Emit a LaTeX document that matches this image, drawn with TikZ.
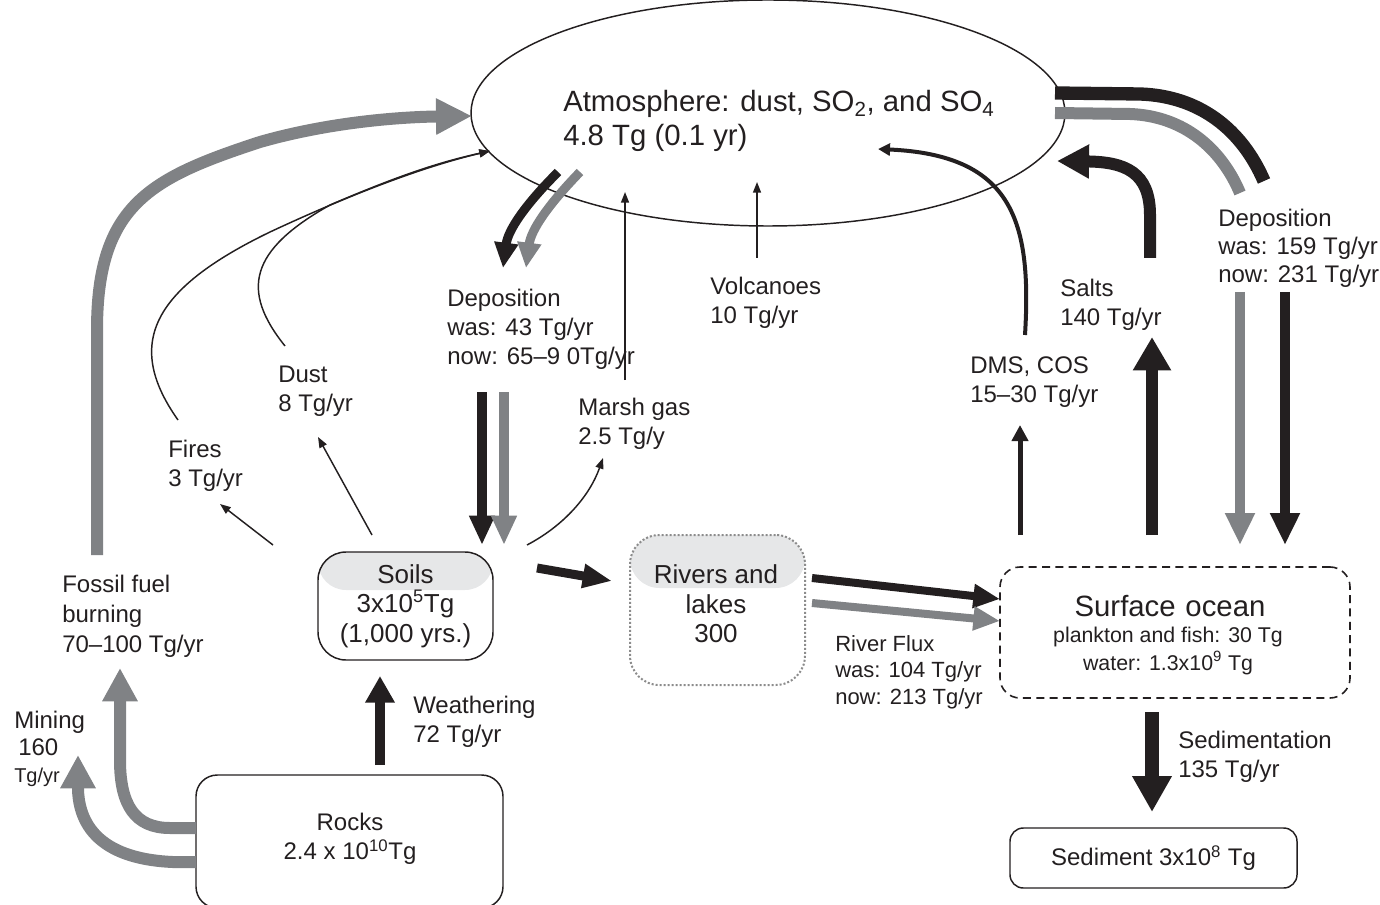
\documentclass[tikz,border=0pt]{standalone}
\usepackage{fontspec}
\setmainfont{Liberation Sans}
\usetikzlibrary{arrows.meta,shapes.geometric}
\definecolor{dk}{HTML}{231F20}
\definecolor{gr}{HTML}{808285}
\definecolor{bandc}{HTML}{E6E7E8}
\definecolor{dotc}{HTML}{8C8C8C}
\begin{document}
\begin{tikzpicture}[x=0.75pt,y=-0.75pt,
  lbl/.style={anchor=west,inner sep=0pt,align=left,text=dk,font=\fontsize{18}{21.75}\selectfont},
  ctr/.style={inner sep=0pt,align=center,text=dk,font=\fontsize{18}{21.75}\selectfont},
  thinarr/.style={draw=dk,line width=1.1pt,-{Triangle[length=8pt,width=6pt]}},
  flow/.style args={#1/#2/#3/#4}{draw=#1,line width=#2,-{Triangle[length=#3,width=#4]}},
  ribbon/.style={draw=#1,line width=10pt},
  box/.style={draw=dk,line width=1.1pt,inner sep=0pt}
]
\useasboundingbox (0,0) rectangle (1380,905);
\clip (0,0) rectangle (1380,905);

% ---------- reservoirs ----------
\node[box,rounded corners=21pt,minimum width=131.25pt,minimum height=81pt,
  path picture={\fill[bandc] (path picture bounding box.north west) rectangle ([yshift=-28.5pt]path picture bounding box.north east);},
  align=center,text=dk,font=\fontsize{19.5}{22}\selectfont] (soils) at (405.5,606) {Soils\\3x10\textsuperscript{5}Tg\\(1,000 yrs.)};

\node[draw=dotc,line width=1.5pt,dash pattern=on 1.5pt off 1.5pt,rounded corners=22pt,inner sep=0pt,
  minimum width=131.25pt,minimum height=112.5pt,
  path picture={\fill[bandc] (path picture bounding box.north west) rectangle ([yshift=-39.75pt]path picture bounding box.north east);}] (riv) at (717.5,610) {};
\node[ctr,font=\fontsize{19.5}{22}\selectfont] (rivtxt) at (716,604) {Rivers and\\lakes\\300};

\node[box,line width=1.2pt,dash pattern=on 6pt off 4pt,rounded corners=15pt,minimum width=262.5pt,minimum height=98.25pt] (ocean) at (1175,632.5) {};
\node[ctr,font=\fontsize{22}{25}\selectfont] (octitle) at (1170,606) {Surface\,\,ocean};
\node[ctr,font=\fontsize{16}{19}\selectfont] (ocsub1) at (1168,637) {plankton and fish: 30 Tg};
\node[ctr,font=\fontsize{16}{19}\selectfont] (ocsub2) at (1168,663) {water: 1.3x10\textsuperscript{9} Tg};

\node[box,rounded corners=10pt,minimum width=215.25pt,minimum height=45pt,text=dk,font=\fontsize{18}{21.75}\selectfont] (sed) at (1153.5,858) {Sediment 3x10\textsuperscript{8} Tg};

\node[box,rounded corners=16pt,minimum width=230.25pt,minimum height=99.75pt] (rocks) at (349.5,841.5) {};
\node[ctr] (rockst1) at (350,822) {Rocks};
\node[ctr] (rockst2) at (350,852) {2.4 x 10\textsuperscript{10}Tg};

% ---------- atmosphere ----------
\node[ellipse,draw=dk,line width=1.1pt,minimum width=445.5pt,minimum height=169.5pt,inner sep=0pt] (atm) at (768,113) {};
\node[lbl,font=\fontsize{22}{25.5}\selectfont] (atmtxt) at (563,121) {Atmosphere: dust, SO\textsubscript{2}, and SO\textsubscript{4}\\4.8 Tg (0.1 yr)};

% ---------- coordinates ----------
\coordinate (ffS) at (97,555);   \coordinate (ffE) at (472,116);
\coordinate (fiS) at (178,420);  \coordinate (duS) at (285,346);  \coordinate (atmW) at (490,151);
\coordinate (mgS) at (625,380);  \coordinate (mgE) at (625,192);
\coordinate (voS) at (757,258);  \coordinate (voE) at (757,182);
\coordinate (dlbS) at (558,172); \coordinate (dlbE) at (503,268);
\coordinate (dlgS) at (580,172); \coordinate (dlgE) at (526,268);
\coordinate (vbS) at (482,392);  \coordinate (vbE) at (482,545);
\coordinate (vgS) at (504,392);  \coordinate (vgE) at (504,545);
\coordinate (fiaS) at (273,545); \coordinate (fiaE) at (220,504);
\coordinate (duaS) at (372,535); \coordinate (duaE) at (318,437);
\coordinate (mgaS) at (527,545); \coordinate (mgaE) at (603,458);
\coordinate (srS) at (537,568);  \coordinate (srE) at (612,581);
\coordinate (rfbS) at (812,578); \coordinate (rfbE) at (1000,599);
\coordinate (rfgS) at (812,603); \coordinate (rfgE) at (1000,621);
\coordinate (drbS) at (1055,93); \coordinate (drbE) at (1264,181);
\coordinate (drgS) at (1055,113);\coordinate (drgE) at (1240,193);
\coordinate (dvgS) at (1240,292);\coordinate (dvgE) at (1240,545);
\coordinate (dvbS) at (1285,292);\coordinate (dvbE) at (1285,545);
\coordinate (saS) at (1150,258); \coordinate (saE) at (1057,161);
\coordinate (suS) at (1152,535); \coordinate (suE) at (1152,337);
\coordinate (dmS) at (1020,535); \coordinate (dmE) at (1020,425);
\coordinate (dcS) at (1025,335); \coordinate (dcE) at (878,149);
\coordinate (seS) at (1152,712); \coordinate (seE) at (1152,812);
\coordinate (weS) at (380,765);  \coordinate (weE) at (380,676);
\coordinate (rfS) at (196,828);  \coordinate (rfE) at (120,668);
\coordinate (rmS) at (196,862);  \coordinate (rmE) at (78,755);

% ---------- flows ----------
\draw[flow=gr/9pt/27pt/25.5pt] (ffS) -- (97,330) .. controls (97,205) and (150,178) .. (260,142) .. controls (330,122) and (400,117) .. (ffE);
\draw[thinarr] (fiS) .. controls (125,345) and (150,290) .. (270,232) .. controls (360,190) and (430,165) .. (atmW);
\draw[thinarr] (duS) .. controls (240,290) and (250,250) .. (330,205) .. controls (400,175) and (440,162) .. (atmW);
\draw[thinarr] (mgS) -- (mgE);
\draw[thinarr] (voS) -- (voE);
\draw[flow=dk/6.75pt/19pt/17pt] (dlbS) .. controls (525,205) and (508,230) .. (dlbE);
\draw[flow=gr/6.75pt/19pt/17pt] (dlgS) .. controls (548,205) and (531,230) .. (dlgE);
\draw[flow=dk/7pt/22pt/18pt] (vbS) -- (vbE);
\draw[flow=gr/7pt/22pt/18pt] (vgS) -- (vgE);
\draw[thinarr] (fiaS) -- (fiaE);
\draw[thinarr] (duaS) -- (duaE);
\draw[thinarr] (mgaS) .. controls (565,525) and (590,495) .. (mgaE);
\draw[flow=dk/6.75pt/22pt/17pt] (srS) -- (srE);
\draw[flow=dk/6pt/20pt/17pt] (rfbS) -- (rfbE);
\draw[flow=gr/6pt/20pt/17pt] (rfgS) -- (rfgE);
\draw[ribbon=dk] (drbS) -- (1140,94) .. controls (1200,96) and (1242,130) .. (drbE);
\draw[ribbon=gr,line width=9pt] (drgS) -- (1130,114) .. controls (1185,116) and (1222,150) .. (drgE);
\draw[flow=gr/8pt/24pt/21pt] (dvgS) -- (dvgE);
\draw[flow=dk/8pt/24pt/21pt] (dvbS) -- (dvbE);
\draw[flow=dk/9pt/24pt/24pt] (saS) -- (1150,215) .. controls (1150,172) and (1125,162) .. (saE);
\draw[flow=dk/9pt/25pt/27pt] (suS) -- (suE);
\draw[flow=dk/3.75pt/12pt/12pt] (dmS) -- (dmE);
\draw[flow=dk/3pt/9pt/9pt] (dcS) .. controls (1032,220) and (1012,155) .. (dcE);
\draw[flow=dk/10.5pt/27pt/28pt] (seS) -- (seE);
\draw[flow=dk/8pt/20pt/21pt] (weS) -- (weE);
\draw[flow=gr/9pt/25pt/25pt] (rfS) -- (170,828) .. controls (135,828) and (120,805) .. (120,760) -- (rfE);
\draw[flow=gr/9pt/25pt/25pt] (rmS) .. controls (120,865) and (80,840) .. (78,790) -- (rmE);

% ---------- labels ----------
\node[lbl] (depL) at (447,329) {Deposition\\was: 43 Tg/yr\\now: 65–9 0Tg/yr};
\node[lbl] (volc) at (710,303) {Volcanoes\\10 Tg/yr};
\node[lbl] (marsh) at (578,424) {Marsh gas\\2.5 Tg/y};
\node[lbl] (dust) at (278,391) {Dust\\8 Tg/yr};
\node[lbl] (fires) at (168,466) {Fires\\3 Tg/yr};
\node[lbl,font=\fontsize{18}{22.5}\selectfont] (fossil) at (62,616) {Fossil fuel\\burning\\70–100 Tg/yr};
\node[lbl,font=\fontsize{18}{20.5}\selectfont] (mining) at (14,749) {Mining\\\,160\\{\fontsize{15}{20.5}\selectfont Tg/yr}};
\node[lbl] (weath) at (413,722) {Weathering\\72 Tg/yr};
\node[lbl,font=\fontsize{18}{21}\selectfont] (depR) at (1218,248) {Deposition\\was: 159 Tg/yr\\now: 231 Tg/yr};
\node[lbl] (salts) at (1060,305) {Salts\\140 Tg/yr};
\node[lbl] (dms) at (970,382) {DMS, COS\\15–30 Tg/yr};
\node[lbl,font=\fontsize{16.5}{20}\selectfont] (rflux) at (835,672) {River Flux\\was: 104 Tg/yr\\now: 213 Tg/yr};
\node[lbl] (sedim) at (1178,757) {Sedimentation\\135 Tg/yr};
\end{tikzpicture}
\end{document}
